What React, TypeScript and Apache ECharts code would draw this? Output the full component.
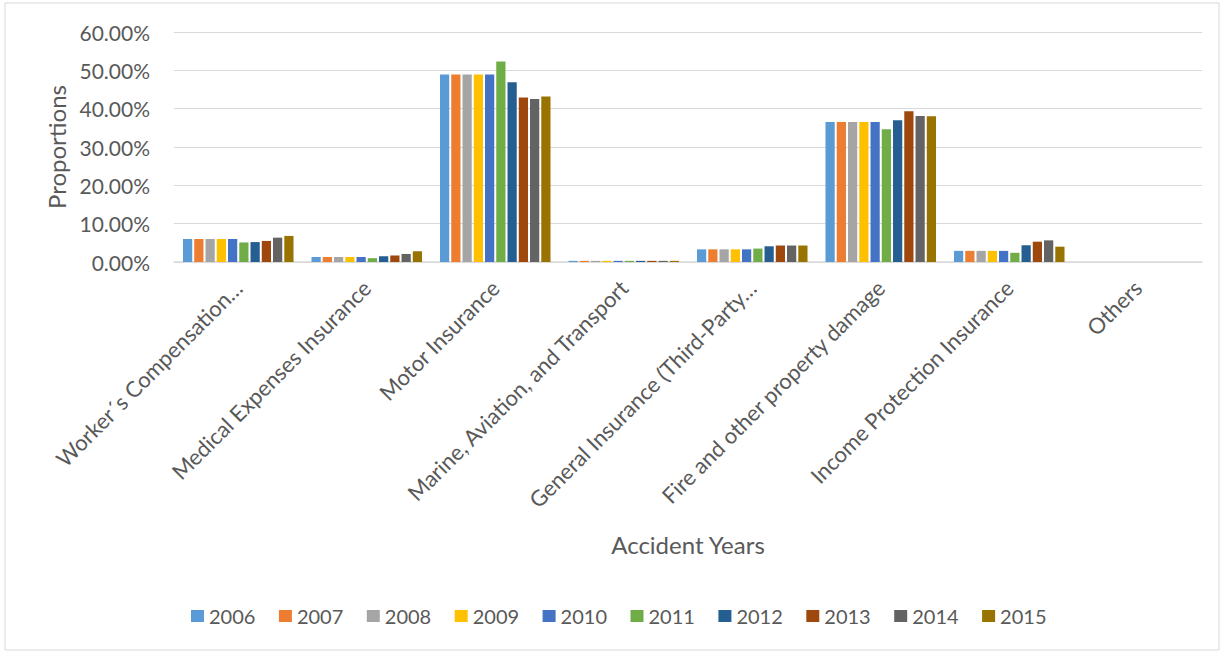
import React, { useEffect, useRef } from "react";
import * as echarts from "echarts";

const categories = [
  "Worker´s Compensation…",
  "Medical Expenses Insurance",
  "Motor Insurance",
  "Marine, Aviation, and Transport",
  "General Insurance (Third-Party…",
  "Fire and other property damage",
  "Income Protection Insurance",
  "Others",
];

const years = ["2006", "2007", "2008", "2009", "2010", "2011", "2012", "2013", "2014", "2015"];

// values per category, one entry per year (percent)
const workers = [6.0, 6.0, 6.0, 6.0, 6.0, 5.1, 5.2, 5.5, 6.35, 6.8];
const medical = [1.3, 1.3, 1.3, 1.3, 1.3, 1.0, 1.5, 1.7, 2.1, 2.8];
const motor = [48.9, 48.9, 48.9, 48.9, 48.9, 52.3, 46.9, 42.9, 42.5, 43.2];
const marine = [0.3, 0.3, 0.3, 0.3, 0.3, 0.3, 0.3, 0.3, 0.3, 0.3];
const general = [3.3, 3.3, 3.3, 3.3, 3.3, 3.5, 4.1, 4.3, 4.3, 4.3];
const fire = [36.5, 36.5, 36.5, 36.5, 36.5, 34.6, 37.0, 39.3, 38.1, 38.0];
const income = [2.9, 2.9, 2.9, 2.9, 2.9, 2.4, 4.35, 5.3, 5.65, 4.0];
const others = [0, 0, 0, 0, 0, 0, 0, 0, 0, 0];

const yTicks = [0, 10, 20, 30, 40, 50, 60];

const colors = ["#5B9BD5", "#ED7D31", "#A5A5A5", "#FFC000", "#4472C4", "#70AD47", "#255E91", "#9E480E", "#636363", "#997300"];

const FONT = "Lato, 'Open Sans', sans-serif";
const TXT = "#595959";

export default function App() {
  const ref = useRef<HTMLDivElement>(null);
  useEffect(() => {
    document.body.style.margin = "0";
    const chart = echarts.init(ref.current!, null, { renderer: "svg" });
    const byCat = [workers, medical, motor, marine, general, fire, income, others];
    const series = years.map((y, i) => ({
      name: y,
      type: "bar",
      data: byCat.map((c) => c[i]),
      itemStyle: { color: colors[i] },
      barGap: "22%",
      barCategoryGap: "14%",
    }));
    chart.setOption({
      animation: false,
      textStyle: { fontFamily: FONT },
      graphic: [
        {
          type: "rect",
          shape: { x: 5, y: 3, width: 1214, height: 647 },
          style: { fill: "none", stroke: "#d9d9d9", lineWidth: 1 },
          silent: true,
        },
      ],
      grid: { left: 174, right: 23, top: 32, bottom: 391 },
      legend: {
        data: years,
        left: 186,
        top: 601,
        itemWidth: 13,
        itemHeight: 12,
        itemGap: 23.5,
        icon: "rect",
        textStyle: { color: TXT, fontSize: 20, fontFamily: FONT },
      },
      xAxis: {
        type: "category",
        data: categories,
        name: "Accident Years",
        nameLocation: "middle",
        nameGap: 270,
        nameTextStyle: { color: TXT, fontSize: 24, fontFamily: FONT },
        axisLine: { lineStyle: { color: "#d9d9d9", width: 1.5 } },
        axisTick: { show: false },
        axisLabel: { rotate: 45, color: TXT, fontSize: 22, fontFamily: FONT, margin: 22, interval: 0 },
      },
      yAxis: {
        type: "value",
        min: yTicks[0],
        max: yTicks[yTicks.length - 1],
        interval: 10,
        name: "Proportions",
        nameLocation: "middle",
        nameGap: 106,
        nameTextStyle: { color: TXT, fontSize: 24, fontFamily: FONT },
        axisLine: { show: false },
        axisTick: { show: false },
        splitLine: { lineStyle: { color: "#d9d9d9", width: 1.2 } },
        axisLabel: {
          color: TXT,
          fontSize: 21,
          fontFamily: FONT,
          margin: 24,
          formatter: (v: number) => `${v.toFixed(2)}%`,
        },
      },
      series,
    });
    return () => chart.dispose();
  }, []);
  return <div ref={ref} style={{ width: 1225, height: 653 }} />;
}
